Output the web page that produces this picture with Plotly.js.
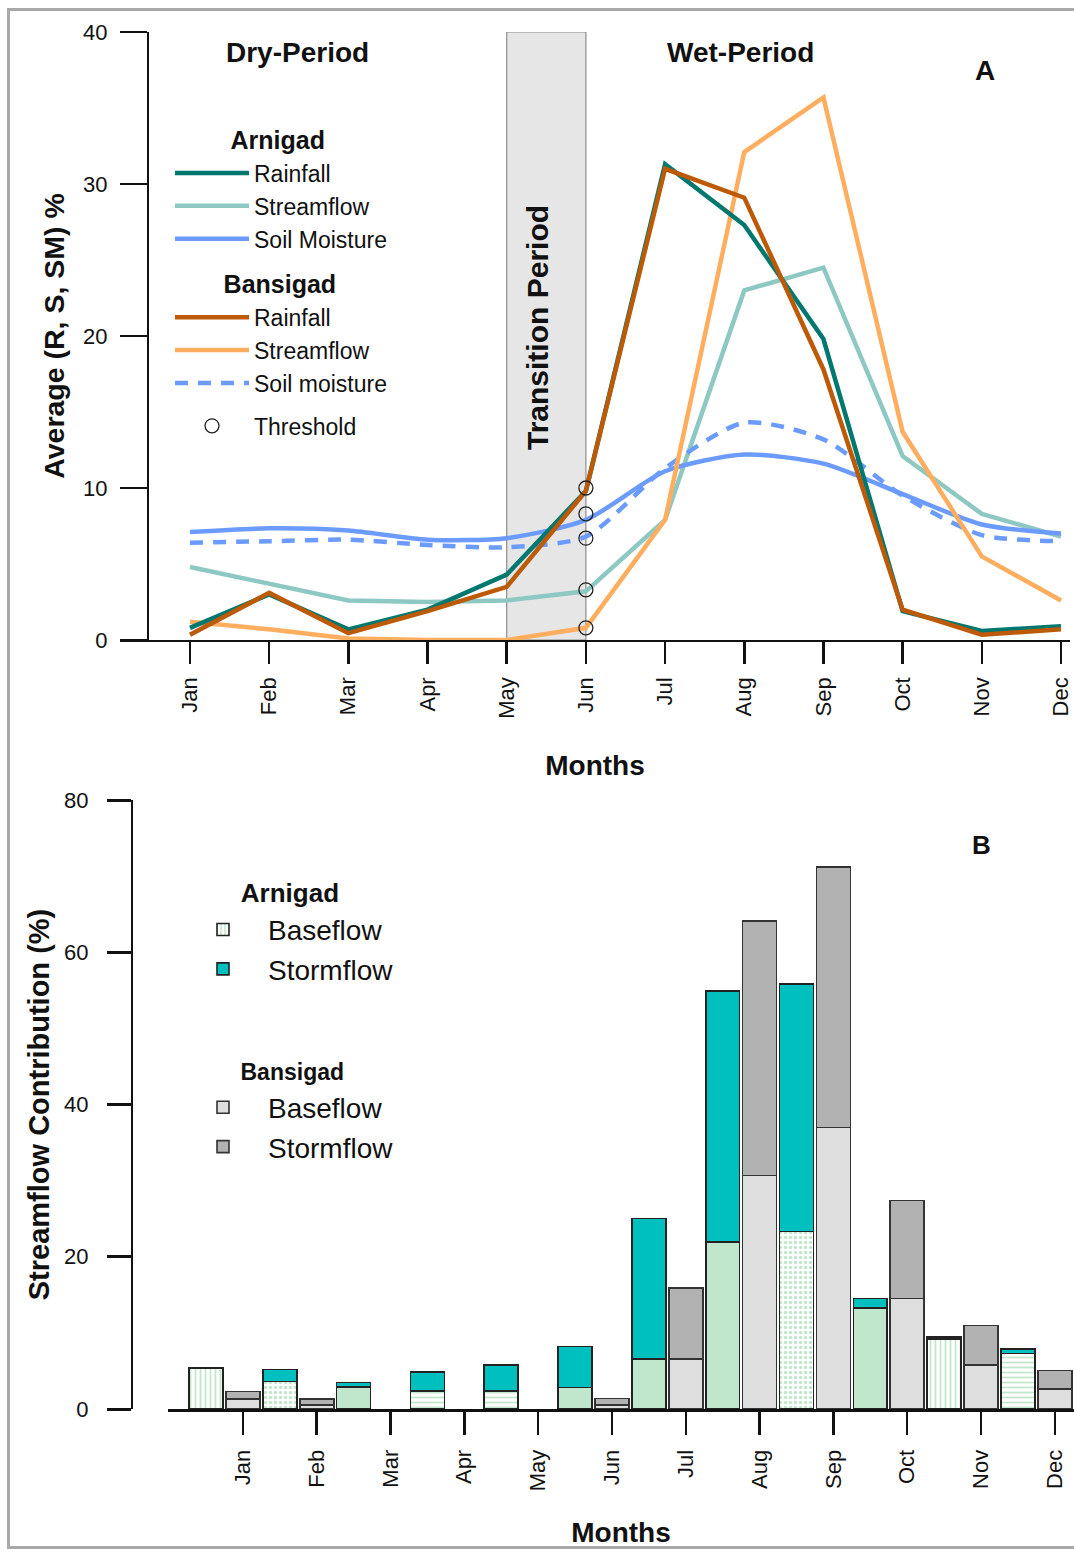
<!DOCTYPE html>
<html>
<head>
<meta charset="utf-8">
<script src="https://cdn.plot.ly/plotly-3.0.1.min.js"></script>
<style>
  html, body { margin: 0; padding: 0; background: #fff; }
  #wrap { position: relative; width: 1074px; height: 1553px; }
  #plot { position: absolute; left: 0; top: 0; width: 1074px; height: 1553px; }
  #frame { position: absolute; left: 7px; top: 8px; width: 1080px; height: 1541px;
           border: 3px solid #a9a9a9; pointer-events: none; box-sizing: border-box; }
</style>
</head>
<body>
<div id="wrap">
  <div id="plot"></div>
  <div id="frame"></div>
</div>
<script>
// ---------- Panel A data ----------
const months = ['Jan','Feb','Mar','Apr','May','Jun','Jul','Aug','Sep','Oct','Nov','Dec'];
const arnRainfall   = [0.8, 3.0, 0.7, 2.0, 4.3, 9.8, 31.3, 27.3, 19.8, 1.9, 0.6, 0.9];
const arnStreamflow = [4.8, 3.7, 2.6, 2.5, 2.6, 3.2, 7.9, 23.0, 24.5, 12.1, 8.3, 6.8];
const arnSoilMoist  = [7.1, 7.35, 7.2, 6.6, 6.7, 7.9, 11.1, 12.2, 11.6, 9.6, 7.6, 7.0];
const banRainfall   = [0.35, 3.1, 0.45, 1.9, 3.5, 9.8, 31.0, 29.1, 17.8, 2.0, 0.35, 0.7];
const banStreamflow = [1.2, 0.7, 0.1, 0.0, 0.0, 0.8, 7.9, 32.1, 35.7, 13.7, 5.5, 2.6];
const banSoilMoist  = [6.4, 6.5, 6.6, 6.25, 6.1, 6.8, 11.3, 14.3, 13.2, 9.5, 6.9, 6.5];
const thresholdMonth = 'Jun';
const thresholdValues = [10.0, 8.3, 6.7, 3.3, 0.8];
const transitionMonths = ['May', 'Jun'];

// ---------- Panel B data ----------
const arnBaseflow  = [5.35, 3.6, 2.9, 2.4, 2.4, 2.85, 6.6, 21.9, 23.3, 13.3, 9.2, 7.3];
const arnStormflow = [null, 1.6, 0.6, 2.5, 3.4, 5.35, 18.4, 33.0, 32.5, 1.2, 0.25, 0.6];
const banBaseflow  = [1.3, 0.5, null, null, null, 0.55, 6.6, 30.7, 37.0, 14.5, 5.8, 2.6];
const banStormflow = [1.0, 0.8, null, null, null, 0.85, 9.3, 33.4, 34.2, 12.9, 5.15, 2.45];
const arnBasePattern = ['|', '.', '', '-', '-', '', '', '', '.', '', '|', '-'];

// ---------- helpers ----------
const W = 1074, H = 1553;
const px = v => v / W;
const py = v => 1 - v / H;
const FONT = 'Liberation Sans, Arial, Helvetica, sans-serif';
const pad = n => '\u00a0'.repeat(n);
const monthPos = months.map((m, i) => i + 1);
const arnBarPos = monthPos.map(v => v - 0.5);

const lineTrace = (y, name, color, opts = {}) => Object.assign({
  type: 'scatter', mode: 'lines', x: monthPos, y: y, name: name,
  line: { color: color, width: 4.5 }, xaxis: 'x', yaxis: 'y', hoverinfo: 'skip'
}, opts);

const traces = [
  lineTrace(arnStreamflow, 'Streamflow', '#8dc8c2', { legendgroup: 'arn', legendrank: 2 }),
  lineTrace(arnSoilMoist, 'Soil Moisture', '#6b9bff', { legendgroup: 'arn', legendrank: 3, line: { color: '#6b9bff', width: 4.5, shape: 'spline', smoothing: 0.7 } }),
  lineTrace(banSoilMoist, 'Soil moisture', '#6b9bff', { legendgroup: 'ban', legendrank: 6, line: { color: '#6b9bff', width: 4.5, dash: '13px,10px', shape: 'spline', smoothing: 0.7 } }),
  lineTrace(banStreamflow, 'Streamflow', '#ffad5f', { legendgroup: 'ban', legendrank: 5 }),
  lineTrace(arnRainfall, 'Rainfall', '#00786f', { legendgroup: 'arn', legendrank: 1,
    legendgrouptitle: { text: pad(8) + 'Arnigad', font: { size: 25, family: FONT, weight: 'bold', color: '#111' } } }),
  lineTrace(banRainfall, 'Rainfall', '#bd5a08', { legendgroup: 'ban', legendrank: 4,
    legendgrouptitle: { text: pad(7) + 'Bansigad', font: { size: 25, family: FONT, weight: 'bold', color: '#111' } } }),
  {
    type: 'scatter', mode: 'markers', name: 'Threshold', legendgroup: 'thr', legendrank: 7,
    x: thresholdValues.map(() => months.indexOf(thresholdMonth) + 1), y: thresholdValues,
    marker: { symbol: 'circle-open', size: 14, color: '#222', line: { width: 1.3, color: '#222' } },
    xaxis: 'x', yaxis: 'y', hoverinfo: 'skip'
  },
  // ---- Panel B bars ----
  {
    type: 'bar', name: 'Baseflow', x: arnBarPos, y: arnBaseflow, width: 0.46,
    legend: 'legend2', legendgroup: 'arnB', legendrank: 1,
    legendgrouptitle: { text: pad(8) + 'Arnigad', font: { size: 26, family: FONT, weight: 'bold', color: '#111' } },
    marker: { color: '#c0e6cb', line: { color: '#222', width: 1.6 },
              pattern: { shape: arnBasePattern, size: 5, solidity: 0.35 } },
    xaxis: 'x2', yaxis: 'y2', hoverinfo: 'skip'
  },
  {
    type: 'bar', name: 'Stormflow', x: arnBarPos, y: arnStormflow, width: 0.46,
    legend: 'legend2', legendgroup: 'arnB', legendrank: 2,
    marker: { color: '#00bfbf', line: { color: '#222', width: 1.6 } },
    xaxis: 'x2', yaxis: 'y2', hoverinfo: 'skip'
  },
  {
    type: 'bar', name: 'Baseflow', x: monthPos, y: banBaseflow, width: 0.46,
    legend: 'legend2', legendgroup: 'banB', legendrank: 3,
    legendgrouptitle: { text: pad(9) + 'Bansigad', font: { size: 23, family: FONT, weight: 'bold', color: '#111' } },
    marker: { color: '#dedede', line: { color: '#333', width: 1.6 } },
    xaxis: 'x2', yaxis: 'y2', hoverinfo: 'skip'
  },
  {
    type: 'bar', name: 'Stormflow', x: monthPos, y: banStormflow, width: 0.46,
    legend: 'legend2', legendgroup: 'banB', legendrank: 4,
    marker: { color: '#b2b2b2', line: { color: '#333', width: 1.6 } },
    xaxis: 'x2', yaxis: 'y2', hoverinfo: 'skip'
  }
];

const tIdx = transitionMonths.map(m => months.indexOf(m) + 1);

const layout = {
  width: W, height: H,
  margin: { l: 0, r: 0, t: 0, b: 0 },
  paper_bgcolor: '#ffffff', plot_bgcolor: 'rgba(0,0,0,0)',
  font: { family: FONT, size: 22, color: '#111' },
  showlegend: true,
  barmode: 'stack',
  xaxis: {
    domain: [px(120), px(1070)], anchor: 'y',
    range: [0.116, 12.114],
    tickvals: monthPos, ticktext: months, tickangle: -90,
    ticks: 'outside', ticklen: 22, tickwidth: 2.5, tickcolor: '#111',
    ticklabelstandoff: 5,
    showline: true, linewidth: 1.5, linecolor: '#111',
    showgrid: false, zeroline: false,
    tickfont: { size: 22, family: FONT },
    title: { text: 'Months', font: { size: 28, family: FONT, weight: 'bold' }, standoff: 37 }
  },
  yaxis: {
    domain: [py(640), py(32)], anchor: 'free', position: px(147),
    range: [0, 40], tickvals: [0, 10, 20, 30, 40],
    ticks: 'outside', ticklen: 27, tickwidth: 1.5, tickcolor: '#111',
    ticklabelstandoff: 8,
    showline: true, linewidth: 1.5, linecolor: '#111',
    showgrid: false, zeroline: false,
    tickfont: { size: 22, family: FONT },
    title: { text: 'Average (R, S, SM) %', font: { size: 28.5, family: FONT, weight: 'bold' }, standoff: 8 }
  },
  xaxis2: {
    domain: [px(168), 1], anchor: 'y2',
    range: [-0.015, 12.26],
    tickvals: monthPos, ticktext: months, tickangle: -90,
    ticks: 'outside', ticklen: 23, tickwidth: 2.5, tickcolor: '#111',
    ticklabelstandoff: 6,
    showline: true, linewidth: 3, linecolor: '#111',
    showgrid: false, zeroline: false,
    tickfont: { size: 22, family: FONT },
    title: { text: 'Months', font: { size: 28, family: FONT, weight: 'bold' }, standoff: 33 }
  },
  yaxis2: {
    domain: [py(1409), py(800)], anchor: 'free', position: px(131),
    range: [0, 80], tickvals: [0, 20, 40, 60, 80],
    ticks: 'outside', ticklen: 24, tickwidth: 3, tickcolor: '#111',
    ticklabelstandoff: 14,
    showline: true, linewidth: 1.5, linecolor: '#111',
    showgrid: false, zeroline: false,
    tickfont: { size: 22, family: FONT },
    title: { text: 'Streamflow Contribution (%)', font: { size: 29, family: FONT, weight: 'bold' }, standoff: 4 }
  },
  legend: {
    x: px(170), y: py(116), xanchor: 'left', yanchor: 'top',
    bgcolor: 'rgba(0,0,0,0)', borderwidth: 0,
    font: { size: 23, family: FONT, color: '#111' },
    traceorder: 'grouped', tracegroupgap: 10, itemwidth: 74
  },
  legend2: {
    x: px(178), y: py(868), xanchor: 'left', yanchor: 'top',
    bgcolor: 'rgba(0,0,0,0)', borderwidth: 0,
    font: { size: 28, family: FONT, color: '#111' },
    traceorder: 'grouped', tracegroupgap: 66, itemwidth: 80
  },
  shapes: [
    { type: 'rect', xref: 'x', yref: 'y', x0: tIdx[0], x1: tIdx[1], y0: 0, y1: 40,
      fillcolor: '#e6e6e6', line: { color: '#8c8c8c', width: 1.2 }, layer: 'below' }
  ],
  annotations: [
    { text: '<b>Dry-Period</b>', xref: 'paper', yref: 'paper', x: px(297), y: py(52), showarrow: false,
      font: { size: 28, family: FONT, color: '#111' }, xanchor: 'center', yanchor: 'middle' },
    { text: '<b>Wet-Period</b>', xref: 'paper', yref: 'paper', x: px(740), y: py(52), showarrow: false,
      font: { size: 28, family: FONT, color: '#111' }, xanchor: 'center', yanchor: 'middle' },
    { text: '<b>A</b>', xref: 'paper', yref: 'paper', x: px(985), y: py(70), showarrow: false,
      font: { size: 28, family: FONT, color: '#111' }, xanchor: 'center', yanchor: 'middle' },
    { text: '<b>Transition Period</b>', xref: 'paper', yref: 'paper', x: px(537), y: py(328), showarrow: false,
      textangle: -90, font: { size: 30, family: FONT, color: '#111' }, xanchor: 'center', yanchor: 'middle' },
    { text: '<b>B</b>', xref: 'paper', yref: 'paper', x: px(981), y: py(845), showarrow: false,
      font: { size: 26, family: FONT, color: '#111' }, xanchor: 'center', yanchor: 'middle' }
  ]
};

Plotly.newPlot('plot', traces, layout, { displayModeBar: false, staticPlot: true });
</script>
</body>
</html>
